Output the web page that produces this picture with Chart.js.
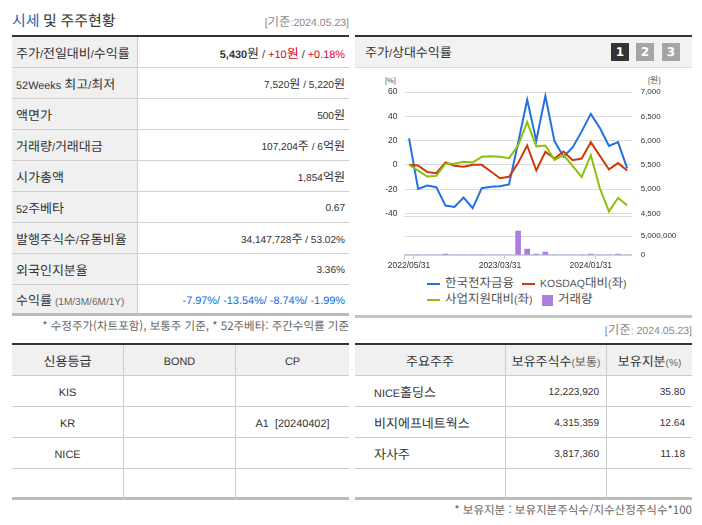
<!DOCTYPE html>
<html lang="ko">
<head>
<meta charset="UTF-8">
<title>시세 및 주주현황</title>
<script src="https://cdn.jsdelivr.net/npm/chart.js"></script>
<style>
    @font-face { font-family: "LatinSmall"; src: local("Liberation Sans"); size-adjust: 84%; unicode-range: U+0020-007E; }
    @font-face { font-family: "LatinSmall"; font-weight: bold; src: local("Liberation Sans Bold"); size-adjust: 84%; unicode-range: U+0020-007E; }
    html, body { margin: 0; padding: 0; background: #fff; }
    body { width: 702px; height: 525px; position: relative; overflow: hidden; font-family: "LatinSmall", "Noto Sans CJK KR", sans-serif; font-size: 13px; color: #333; text-rendering: geometricPrecision; }
    .abs { position: absolute; white-space: nowrap; line-height: 16px; }
    .note { font-family: "Noto Sans CJK KR", sans-serif; font-size: 11.5px; color: #666; }
    table { position: absolute; border-collapse: separate; border-spacing: 0; table-layout: fixed; border-top: 2px solid #333; }
    td, th { font-weight: normal; height: 30px; padding: 0 4px; border-bottom: 1px solid #d0d0d0; white-space: nowrap; overflow: hidden; }
    tr:last-child td { border-bottom: 3px solid #bbb; height: 28px; }
    #price td:first-child { background: #f0f0f0; border-right: 1px solid #ccc; }
    #price td:last-child { text-align: right; font-size: 12px; }
    #price td.big:last-child { font-size: 13px; }
    .grid th { background: #f0f0f0; text-align: center; border-bottom: 1px solid #ccc; border-right: 1px solid #ccc; }
    .grid td { border-right: 1px solid #ccc; border-bottom: 1px solid #ccc; text-align: center; }
    .grid th:last-child, .grid td:last-child { border-right: 0; }
    #holders td { text-align: right; padding-right: 7px; font-size: 12px; }
    #holders td:first-child { text-align: left; padding-left: 19px; font-size: 13px; }
    /* 한글 없는 셀은 기준선이 올라가서 내려줌 */
    td.num, th.num { padding-top: 3px; height: 27px; }
    tr:last-child td.num { height: 25px; }
    .red { color: #e00020; }
    .blue { color: #0a6ae0; }
    .small { font-size: 12px; color: #666; }
    #chartHead { position: absolute; left: 355px; top: 35px; width: 337px; height: 30px; border-top: 2px solid #333; border-bottom: 1px solid #ddd; background: #f2f2f2; }
    .tab { position: absolute; top: 43px; width: 18px; height: 18px; line-height: 18px; text-align: center; color: #fff; font: bold 12px/18px "DejaVu Sans", sans-serif; background: #a5a5a5; }
    #legend { position: absolute; left: 427px; top: 276px; width: 210px; font-size: 12.5px; line-height: 16px; color: #555; }
    #legend div { position: absolute; white-space: nowrap; }
    #legend i { display: inline-block; vertical-align: middle; margin-right: 5px; }
    canvas { display: block; }
</style>
</head>
<body>
    <div class="abs" style="left:12px;top:12px;font-size:15px;line-height:20px;"><span style="color:#2b5fb3;">시세</span> 및 주주현황</div>
    <div class="abs" style="right:353px;top:15px;color:#888;font-size:12.5px;">[기준:2024.05.23]</div>

    <table id="price" style="left:12px;top:35px;width:337px;">
        <colgroup><col style="width:126px"><col></colgroup>
        <tr><td>주가/전일대비/수익률</td><td class="big"><b>5,430</b>원 / <span class="red">+10원</span> / <span class="red">+0.18%</span></td></tr>
        <tr><td>52Weeks 최고/최저</td><td>7,520원 / 5,220원</td></tr>
        <tr><td>액면가</td><td>500원</td></tr>
        <tr><td>거래량/거래대금</td><td>107,204주 / 6억원</td></tr>
        <tr><td>시가총액</td><td>1,854억원</td></tr>
        <tr><td>52주베타</td><td class="num">0.67</td></tr>
        <tr><td>발행주식수/유동비율</td><td>34,147,728주 / 53.02%</td></tr>
        <tr><td>외국인지분율</td><td class="num">3.36%</td></tr>
        <tr><td>수익률 <span class="small">(1M/3M/6M/1Y)</span></td><td class="blue num big">-7.97%/ -13.54%/ -8.74%/ -1.99%</td></tr>
    </table>
    <div class="abs note" style="right:353px;top:318px;">* 수정주가(차트포함), 보통주 기준, * 52주베타: 주간수익률 기준</div>

    <table id="credit" class="grid" style="left:12px;top:343px;width:337px;">
        <colgroup><col style="width:112px"><col style="width:112px"><col></colgroup>
        <tr><th>신용등급</th><th class="num">BOND</th><th class="num">CP</th></tr>
        <tr><td class="num">KIS</td><td></td><td></td></tr>
        <tr><td class="num">KR</td><td></td><td class="num">A1 &nbsp;[20240402]</td></tr>
        <tr><td class="num">NICE</td><td></td><td></td></tr>
        <tr><td></td><td></td><td></td></tr>
    </table>

    <div id="chartHead"></div>
    <div class="abs" style="left:365px;top:46px;">주가/상대수익률</div>
    <div class="tab" style="left:611px;background:#333;">1</div>
    <div class="tab" style="left:636px;">2</div>
    <div class="tab" style="left:662px;">3</div>

    <div class="abs" style="left:385px;top:73px;font-size:9px;color:#555;">[%]</div>
    <div class="abs" style="left:648px;top:73px;font-size:9px;color:#555;">[원]</div>

    <div style="position:absolute;left:355px;top:68px;width:337px;height:160px;"><canvas id="lineChart"></canvas></div>
    <div style="position:absolute;left:355px;top:228px;width:337px;height:45px;"><canvas id="volumeChart"></canvas></div>
    <div id="legend"></div>

    <div style="position:absolute;left:355px;top:315px;width:337px;border-top:3px solid #c4c4c4;"></div>
    <div class="abs" style="right:10px;top:323px;color:#888;font-size:12.5px;">[기준: 2024.05.23]</div>

    <table id="holders" class="grid" style="left:355px;top:343px;width:337px;">
        <colgroup><col style="width:151px"><col style="width:101px"><col></colgroup>
        <tr><th>주요주주</th><th>보유주식수<span class="small">(보통)</span></th><th>보유지분<span class="small">(%)</span></th></tr>
        <tr><td>NICE홀딩스</td><td class="num">12,223,920</td><td class="num">35.80</td></tr>
        <tr><td>비지에프네트웍스</td><td class="num">4,315,359</td><td class="num">12.64</td></tr>
        <tr><td>자사주</td><td class="num">3,817,360</td><td class="num">11.18</td></tr>
        <tr><td></td><td></td><td></td></tr>
    </table>
    <div class="abs note" style="right:10px;top:502px;">* 보유지분 : 보유지분주식수/지수산정주식수*100</div>

<script>
    // 월말 기준 (2022/05 ~ 2024/05)
    const months = [
        '2022/05/31','2022/06/30','2022/07/31','2022/08/31','2022/09/30','2022/10/31','2022/11/30','2022/12/31',
        '2023/01/31','2023/02/28','2023/03/31','2023/04/30','2023/05/31','2023/06/30','2023/07/31','2023/08/31',
        '2023/09/30','2023/10/31','2023/11/30','2023/12/31','2024/01/31','2024/02/29','2024/03/31','2024/04/30','2024/05/23'
    ];
    const priceWon = [6045,5008,5077,5043,4665,4637,4830,4610,5022,5050,5063,5098,5950,6840,6000,6920,5990,5670,5860,6190,6550,6260,5890,5970,5430];
    const kosdaqPct = [0.1,-0.4,-5.9,-6.8,2.0,-0.7,-1.5,0.1,0.1,-5.4,-10.9,-9.8,1.5,16.0,-4.6,10.8,5.3,11.1,3.9,5.3,18.8,7.5,-3.7,1.5,-4.6];
    const sectorPct = [0.1,-4.6,-9.5,-9.0,0.9,0.9,2.6,2.0,6.7,7.2,6.7,5.6,16.0,35.3,15.2,16.0,4.2,8.1,-0.7,-10.0,8.1,-19.4,-38.1,-27.1,-33.1];
    const volume = [0,0,0,0,230000,0,0,0,0,0,0,0,6300000,1580000,260000,780000,0,0,0,0,230000,0,0,230000,0];

    const pctTicks = [-40,-20,0,20,40,60];
    const wonTicks = [4500,5000,5500,6000,6500,7000];
    const volumeTicks = [0,5000000];

    const colors = { price: '#2470e0', kosdaq: '#cf3a08', sector: '#8cc00a', volume: '#ab7fdd' };
    const legendItems = [
        { label: '한국전자금융', color: colors.price, left: 0, top: 0 },
        { label: 'KOSDAQ대비(좌)', color: colors.kosdaq, left: 95, top: 0 },
        { label: '사업지원대비(좌)', color: colors.sector, left: 0, top: 16 },
        { label: '거래량', color: colors.volume, left: 115, top: 16, box: true }
    ];

    const tickFont = { family: '"Liberation Sans", Arial, sans-serif', size: 8 };
    const dateFont = { family: '"Liberation Sans", Arial, sans-serif', size: 8.5 };
    const gridColor = '#dcdcdc';

    function setTicks(list) {
        return function (scale) { scale.ticks = list.map(v => ({ value: v })); };
    }
    // 축 폭 고정, 라벨 여백이 차트 영역을 밀지 않게 함
    function fixedWidth(w) {
        return function (scale) { scale.width = w; scale.paddingTop = 0; scale.paddingBottom = 0; };
    }

    new Chart(document.getElementById('lineChart'), {
        type: 'line',
        data: {
            labels: months,
            datasets: [
                { label: legendItems[0].label, data: priceWon, yAxisID: 'yWon', borderColor: colors.price, order: 3 },
                { label: legendItems[1].label, data: kosdaqPct, yAxisID: 'yPct', borderColor: colors.kosdaq, order: 2 },
                { label: legendItems[2].label, data: sectorPct, yAxisID: 'yPct', borderColor: colors.sector, order: 1 }
            ]
        },
        options: {
            responsive: true, maintainAspectRatio: false, animation: false,
            layout: { padding: { top: 24, bottom: 12, left: 0, right: 0 } },
            elements: { point: { radius: 0 }, line: { borderWidth: 2, tension: 0 } },
            plugins: { legend: { display: false }, tooltip: { enabled: false } },
            scales: {
                x: {
                    offset: true,
                    ticks: { display: false },
                    grid: { drawOnChartArea: false, drawTicks: false },
                    border: { color: gridColor }
                },
                yPct: {
                    position: 'left', min: -42, max: 60,
                    afterBuildTicks: setTicks(pctTicks), afterFit: fixedWidth(49.5),
                    ticks: { font: dateFont, color: '#333', padding: 7, autoSkip: false },
                    grid: { color: gridColor, drawTicks: false },
                    border: { display: false }
                },
                yWon: {
                    position: 'right', min: 4450, max: 7000,
                    afterBuildTicks: setTicks(wonTicks), afterFit: fixedWidth(60.3),
                    ticks: { font: tickFont, color: '#333', padding: 9, autoSkip: false,
                        callback: v => v.toLocaleString('en-US') },
                    grid: { display: false, drawTicks: false },
                    border: { display: false }
                }
            }
        }
    });

    new Chart(document.getElementById('volumeChart'), {
        type: 'bar',
        data: {
            labels: months,
            datasets: [{ label: legendItems[3].label, data: volume, yAxisID: 'yVol', backgroundColor: colors.volume, barThickness: 5 }]
        },
        options: {
            responsive: true, maintainAspectRatio: false, animation: false,
            layout: { padding: { top: 2, left: 49.5, right: 0, bottom: 0 } },
            plugins: { legend: { display: false }, tooltip: { enabled: false } },
            scales: {
                x: {
                    offset: true,
                    afterFit: function (scale) { scale.height = 18; },
                    grid: {
                        offset: true, drawOnChartArea: false, tickLength: 4,
                        tickColor: c => (c.index === 0 || c.index % 10 === 1) ? '#c8c8c8' : 'transparent'
                    },
                    border: { color: '#c9d3dc', width: 2 },
                    ticks: {
                        font: dateFont, color: '#333', padding: 2, autoSkip: false, maxRotation: 0,
                        callback: function (v, i) { return i % 10 === 0 ? this.getLabelForValue(v) : ''; }
                    }
                },
                yVol: {
                    position: 'right', min: 0, max: 6580000,
                    afterBuildTicks: setTicks(volumeTicks), afterFit: fixedWidth(60.3),
                    ticks: { font: tickFont, color: '#333', padding: 9, autoSkip: false,
                        callback: v => v.toLocaleString('en-US') },
                    grid: { color: gridColor, drawTicks: false },
                    border: { display: false }
                }
            }
        }
    });

    // 범례
    const legendBox = document.getElementById('legend');
    legendItems.forEach(item => {
        const el = document.createElement('div');
        el.style.left = item.left + 'px';
        el.style.top = item.top + 'px';
        const mark = document.createElement('i');
        mark.style.background = item.color;
        mark.style.width = item.box ? '11px' : '13px';
        mark.style.height = item.box ? '11px' : '2px';
        el.appendChild(mark);
        el.appendChild(document.createTextNode(item.label));
        legendBox.appendChild(el);
    });
</script>
</body>
</html>
